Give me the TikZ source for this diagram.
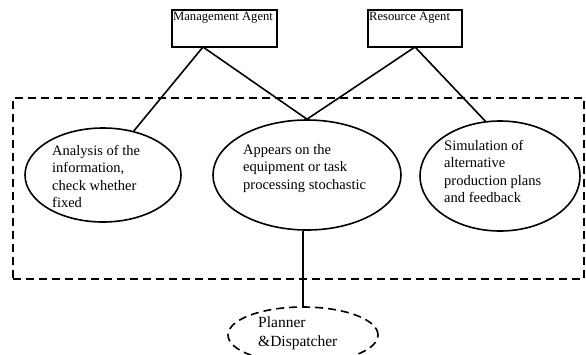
\documentclass[tikz,border=0pt]{standalone}
\usepackage{fontspec}
\setmainfont{Liberation Serif}
\usetikzlibrary{shapes.geometric}
\begin{document}
\begin{tikzpicture}[x=1pt,y=-1pt,
  agent/.style={draw,line width=1.6pt,minimum width=#1,minimum height=37pt,inner sep=0pt},
  task/.style={draw,ellipse,line width=1.6pt,inner sep=0pt},
  txt/.style={anchor=north west,align=left,inner sep=0pt,font=\fontsize{14.5}{17.5}\selectfont},
  conn/.style={line width=1.6pt},
  frame/.style={draw,line width=1.6pt,dash pattern=on 8pt off 5pt}]
\useasboundingbox (0,0) rectangle (586,354);
\clip (0,0) rectangle (586,354);
% agents
\node[agent=105pt] (ma) at (224.5,28.5) {};
\node[anchor=north west,inner sep=0pt,font=\fontsize{12.6}{14}\selectfont] (mat) at (173,11.5) {Management Agent};
\node[agent=94pt] (ra) at (415,28.5) {};
\node[anchor=north west,inner sep=0pt,font=\fontsize{12.6}{14}\selectfont] (rat) at (369,11.5) {Resource Agent};
% dashed frame
\node[frame,minimum width=571pt,minimum height=181pt,inner sep=0pt] (fr) at (298.5,188.5) {};
% ellipses
\node[task,minimum width=156pt,minimum height=94pt] (e1) at (103,175) {};
\node[task,minimum width=188pt,minimum height=110pt] (e2) at (307,175) {};
\node[task,minimum width=160pt,minimum height=110pt] (e3) at (500,176) {};
\node[txt] (t1) at (52,145) {Analysis of the\\information,\\check whether\\fixed};
\node[txt] (t2) at (243,144) {Appears on the\\equipment or task\\processing stochastic};
\node[txt] (t3) at (444,140) {Simulation of\\alternative\\production plans\\and feedback};
% planner
\node[draw,ellipse,line width=1.6pt,dash pattern=on 8pt off 5pt,minimum width=150pt,minimum height=56pt,inner sep=0pt] (pd) at (303,335) {};
\node[txt,font=\fontsize{15.5}{18.5}\selectfont] (tp) at (258,317) {Planner\\\&Dispatcher};
% connectors
\coordinate (maA) at (203,47);
\coordinate (raA) at (415,47);
\draw[conn] (maA) -- (e1.55);
\draw[conn] (maA) -- (e2.north);
\draw[conn] (raA) -- (e2.north);
\draw[conn] (raA) -- (e3.105);
\draw[conn] (e2.south -| pd.north) -- (pd.north);
\end{tikzpicture}
\end{document}
